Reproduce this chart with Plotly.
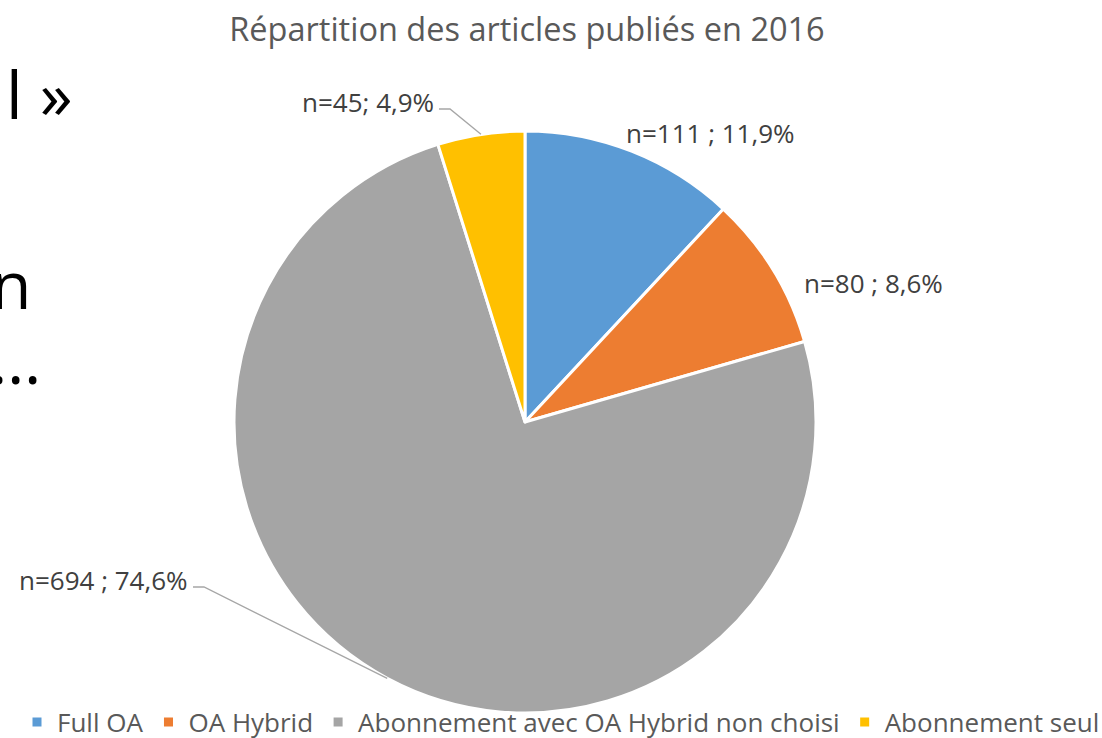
import math
import plotly.graph_objects as go

# ---- data ----
categories = ["Full OA", "OA Hybrid", "Abonnement avec OA Hybrid non choisi", "Abonnement seul"]
counts = [111, 80, 694, 45]
percent_labels = ["n=111 ; 11,9%", "n=80 ; 8,6%", "n=694 ; 74,6%", "n=45; 4,9%"]
title_text = "Répartition des articles publiés en 2016"
colors = ["#5B9BD5", "#ED7D31", "#A5A5A5", "#FFC000"]

W, H = 1102, 738
CX, CY, R = 525, 422, 291  # pie centre / radius in pixels


def px(x):
    return x / W


def py(y):
    return 1 - y / H


fig = go.Figure()
fig.add_trace(go.Pie(
    labels=categories,
    values=counts,
    sort=False,
    direction="clockwise",
    rotation=0,
    marker=dict(colors=colors, line=dict(color="white", width=3)),
    textinfo="none",
    hoverinfo="label+value+percent",
    domain=dict(x=[px(CX - R), px(CX + R)], y=[py(CY + R), py(CY - R)]),
    showlegend=True,
))

# label placement (layout, in px)
total = sum(counts)
label_cfg = [
    dict(side="left", leader=False, tx=624, ty=133),
    dict(side="left", leader=False, tx=802, ty=283),
    dict(side="right", leader=True, tx=190, ty=580),
    dict(side="right", leader=True, tx=436, ty=102),
]

annotations = []
shapes = []
cum = 0
for i, v in enumerate(counts):
    mid = (cum + v / 2) / total * 2 * math.pi
    cum += v
    ex = CX + R * math.sin(mid)
    ey = CY - R * math.cos(mid)
    cfg = label_cfg[i]
    annotations.append(dict(
        x=px(cfg["tx"]), y=py(cfg["ty"]), xref="paper", yref="paper",
        text=percent_labels[i], showarrow=False,
        xanchor=cfg["side"], yanchor="middle",
        font=dict(family="Open Sans", size=26, color="#404040"),
    ))
    if cfg["leader"]:
        sx = cfg["tx"] + 3
        sy = cfg["ty"] + 7
        path = f"M {px(sx)},{py(sy)} L {px(sx + 11)},{py(sy)} L {px(ex)},{py(ey)}"
        shapes.append(dict(type="path", xref="paper", yref="paper", path=path,
                           line=dict(color="#A6A6A6", width=1.3)))

# fragments of slide text behind the chart
frag_font = dict(family="Open Sans", size=66, color="#000000")
annotations += [
    dict(x=px(4), y=py(93), xref="paper", yref="paper", text="l »", showarrow=False,
         xanchor="left", yanchor="middle", font=frag_font),
    dict(x=px(-11), y=py(283), xref="paper", yref="paper", text="n", showarrow=False,
         xanchor="left", yanchor="middle", font=frag_font),
    dict(x=px(43), y=py(358), xref="paper", yref="paper", text="…", showarrow=False,
         xanchor="right", yanchor="middle", font=frag_font),
]

fig.update_layout(
    width=W, height=H,
    margin=dict(l=0, r=0, t=0, b=0, autoexpand=False),
    paper_bgcolor="white", plot_bgcolor="white",
    title=dict(text=title_text, x=px(527), xanchor="center", y=py(30), yanchor="middle",
               yref="container",
               font=dict(family="Open Sans", size=32.5, color="#595959")),
    legend=dict(orientation="h", x=px(561), xanchor="center", y=py(722), yanchor="middle",
                bgcolor="rgba(0,0,0,0)",
                font=dict(family="Open Sans", size=26, color="#595959"),
                itemclick=False, traceorder="normal"),
    annotations=annotations,
    shapes=shapes,
)

fig.write_html("out.html",
               config={"displayModeBar": False},
               post_script="document.body.style.margin='0';document.body.style.overflow='hidden';")
